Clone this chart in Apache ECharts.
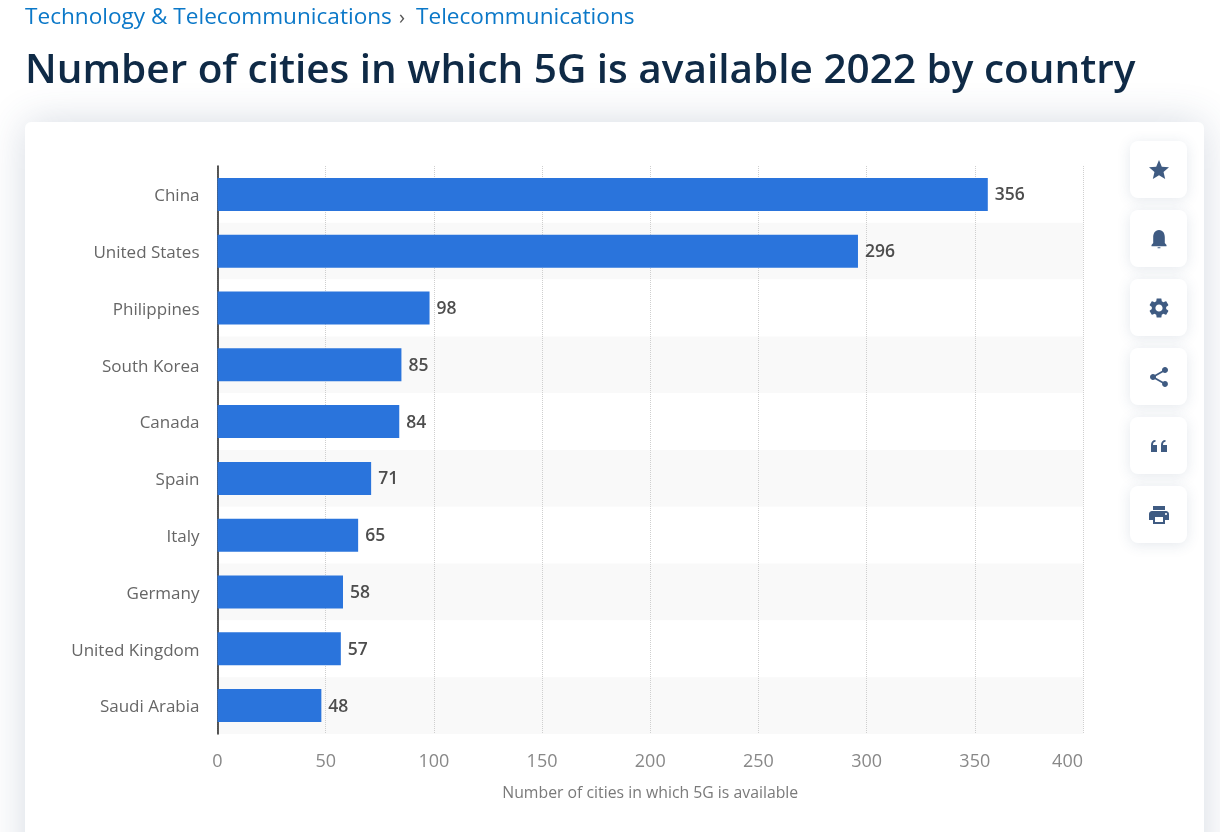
<!DOCTYPE html>
<html>
<head>
<meta charset="utf-8">
<style>html,body{margin:0;padding:0;background:#fff}#wrap{position:relative;width:1220px;height:832px;overflow:hidden}#c{width:1220px;height:832px}#wrap svg{position:absolute;width:24px;height:24px;left:1147px;fill:#3f5b82}</style>
<script src="https://cdn.jsdelivr.net/npm/echarts@6/dist/echarts.min.js"></script>
</head>
<body>
<div id="wrap"><div id="c"></div></div>
<script>
const countries = ['China','United States','Philippines','South Korea','Canada','Spain','Italy','Germany','United Kingdom','Saudi Arabia'];
const cities = [356,296,98,85,84,71,65,58,57,48];
const axisTitle = 'Number of cities in which 5G is available';
const crumbA = 'Technology & Telecommunications';
const crumbB = 'Telecommunications';
const heading = 'Number of cities in which 5G is available 2022 by country';
const icons = [
 'M12 17.27L18.18 21l-1.64-7.03L22 9.24l-7.19-.61L12 2 9.19 8.63 2 9.24l5.46 4.73L5.82 21z',
 'M12 3C7.8 3 6.2 6.8 6.2 10.5V16L4.5 18v1.2h15V18l-1.7-2v-5.5C17.8 6.8 16.2 3 12 3zM10.6 20.2h2.8v1h-2.8z',
 'M19.14 12.94c.04-.3.06-.61.06-.94 0-.32-.02-.64-.07-.94l2.03-1.58c.18-.14.23-.41.12-.61l-1.92-3.32c-.12-.22-.37-.29-.59-.22l-2.39.96c-.5-.38-1.03-.7-1.62-.94l-.36-2.54c-.04-.24-.24-.41-.48-.41h-3.84c-.24 0-.43.17-.47.41l-.36 2.54c-.59.24-1.13.57-1.62.94l-2.39-.96c-.22-.08-.47 0-.59.22L2.74 8.87c-.12.21-.08.47.12.61l2.03 1.58c-.05.3-.09.63-.09.94s.02.64.07.94l-2.03 1.58c-.18.14-.23.41-.12.61l1.92 3.32c.12.22.37.29.59.22l2.39-.96c.5.38 1.03.7 1.62.94l.36 2.54c.05.24.24.41.48.41h3.84c.24 0 .44-.17.47-.41l.36-2.54c.59-.24 1.13-.56 1.62-.94l2.39.96c.22.08.47 0 .59-.22l1.92-3.32c.12-.22.07-.47-.12-.61l-2.01-1.58zM12 15.6c-1.98 0-3.6-1.62-3.6-3.6s1.62-3.6 3.6-3.6 3.6 1.62 3.6 3.6-1.62 3.6-3.6 3.6z',
 'M18 16.08c-.76 0-1.44.3-1.96.77L8.91 12.7c.05-.23.09-.46.09-.7s-.04-.47-.09-.7l7.05-4.11c.54.5 1.25.81 2.04.81 1.66 0 3-1.34 3-3s-1.34-3-3-3-3 1.34-3 3c0 .24.04.47.09.7L8.04 9.81C7.5 9.31 6.79 9 6 9c-1.66 0-3 1.34-3 3s1.34 3 3 3c.79 0 1.5-.31 2.04-.81l7.12 4.16c-.05.21-.08.43-.08.65 0 1.61 1.31 2.92 2.92 2.92s2.92-1.31 2.92-2.92-1.31-2.92-2.92-2.92z',
 'M4 18V11c0-3 1.6-5 4.5-5v1.8C7 7.8 6 9 6 11h4v7H4zm10 0V11c0-3 1.6-5 4.5-5v1.8C17 7.8 16 9 16 11h4v7h-6z',
 'M19 8H5c-1.66 0-3 1.34-3 3v6h4v4h12v-4h4v-6c0-1.66-1.34-3-3-3zm-3 11H8v-5h8v5zm3-7c-.55 0-1-.45-1-1s.45-1 1-1 1 .45 1 1-.45 1-1 1zm-1-9H6v4h12V3z'
];
const chart = echarts.init(document.getElementById('c'));
const deco = [
 {type:'rect',z:-10,silent:true,shape:{x:25,y:122,width:1179,height:760,r:6},
  style:{fill:'#fff',shadowBlur:40,shadowColor:'rgba(50,75,115,0.2)'}},
 {type:'text',left:25,top:6,style:{text:crumbA,fill:'#0b78c8',font:'22.6px "Open Sans"'}},
 {type:'text',left:399,top:8,style:{text:'›',fill:'#555',font:'20px "Open Sans"'}},
 {type:'text',left:416,top:6,style:{text:crumbB,fill:'#0b78c8',font:'22.6px "Open Sans"'}},
 {type:'text',left:25,top:51,style:{text:heading,fill:'#0f2a46',font:'600 40.5px "Open Sans"'}}
];
const wrap = document.getElementById('wrap');
icons.forEach((d,i)=>{
  const top = 141 + i*69;
  deco.push({type:'rect',z:-5,silent:true,shape:{x:1130,y:top,width:57,height:57,r:8},
    style:{fill:'#fff',shadowBlur:14,shadowOffsetY:2,shadowColor:'rgba(50,75,115,0.13)'}});
  const s = document.createElementNS('http://www.w3.org/2000/svg','svg');
  s.setAttribute('viewBox','0 0 24 24');
  s.style.top = (top+17)+'px';
  const p = document.createElementNS('http://www.w3.org/2000/svg','path');
  p.setAttribute('d',d);
  s.appendChild(p);
  wrap.appendChild(s);
});
chart.setOption({
  animation:false,
  textStyle:{fontFamily:'"Open Sans"'},
  graphic:{elements:deco},
  grid:{left:217.5,top:166,width:865.5,height:568,containLabel:false},
  xAxis:{type:'value',min:0,max:400,interval:50,
    name:axisTitle,nameLocation:'middle',nameGap:51,
    nameTextStyle:{fontSize:15.8,color:'#7a7a7a',fontFamily:'"Open Sans"'},
    axisLine:{show:false},axisTick:{show:false},
    axisLabel:{fontSize:18,color:'#888',margin:19,alignMaxLabel:'right'},
    splitLine:{show:true,lineStyle:{type:'dotted',color:'#cfcfcf',width:1}}},
  yAxis:{type:'category',inverse:true,data:countries,
    axisLine:{show:true,onZero:false,lineStyle:{color:'#222',width:1.5}},
    axisTick:{show:false},
    axisLabel:{fontSize:17,color:'#666',margin:18,verticalAlign:'top',lineHeight:4},
    splitArea:{show:true,areaStyle:{color:['#ffffff','#f9f9f9']}},
    splitLine:{show:false}},
  series:[{type:'bar',data:cities,barWidth:33,
    itemStyle:{color:'#2a74dc'},
    label:{show:true,position:'right',distance:7,fontSize:17.5,fontWeight:600,color:'#4d4d4d',verticalAlign:'top',lineHeight:2}}]
});
</script>
</body>
</html>
